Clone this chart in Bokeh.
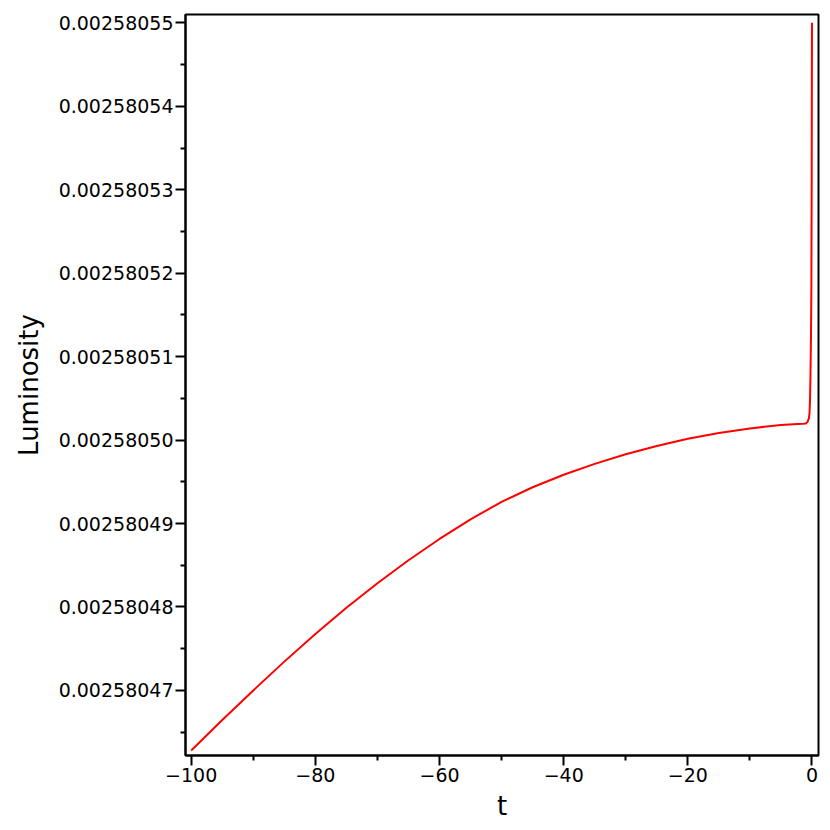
from bokeh.plotting import figure
from bokeh.models import FixedTicker, PrintfTickFormatter, Range1d, ColumnDataSource
from bokeh.embed import file_html
from bokeh.resources import INLINE

# Data
t = [-100.0, -95.0, -90.0, -85.0, -80.0, -75.0, -70.0, -65.0, -60.0, -55.0, -50.0,
     -45.0, -40.0, -35.0, -30.0, -25.0, -20.0, -15.0, -10.0, -5.0, -3.0,
     -1.5, -1.0, -0.7, -0.5, -0.4, -0.32, -0.25, -0.16, -0.1, -0.05, 0.0]
luminosity = [0.00258046280, 0.00258046645, 0.00258047000, 0.00258047345, 0.00258047675,
              0.00258047990, 0.00258048285, 0.00258048560, 0.00258048815, 0.00258049050,
              0.00258049260, 0.00258049435, 0.00258049585, 0.00258049715, 0.00258049830,
              0.00258049930, 0.00258050015, 0.00258050085, 0.00258050140, 0.00258050180,
              0.00258050190, 0.00258050197, 0.00258050200, 0.00258050220,
              0.00258050260, 0.00258050320, 0.00258050470, 0.00258050750, 0.00258051250,
              0.00258051800, 0.00258053000, 0.00258055000]

x_ticks = [-100, -80, -60, -40, -20, 0]
x_tick_labels = ["\u2212100", "\u221280", "\u221260", "\u221240", "\u221220", "0"]
x_minor = [-90, -70, -50, -30, -10]
y_ticks = [0.00258047, 0.00258048, 0.00258049, 0.00258050, 0.00258051,
           0.00258052, 0.00258053, 0.00258054, 0.00258055]
y_minor = [0.002580465, 0.002580475, 0.002580485, 0.002580495, 0.002580505,
           0.002580515, 0.002580525, 0.002580535, 0.002580545]

src = ColumnDataSource(data=dict(t=t, L=luminosity))

p = figure(width=830, height=830, output_backend="svg", toolbar_location=None,
           x_range=Range1d(-100.92, 1.05),
           y_range=Range1d(0.0025804622, 0.0025805510),
           min_border_left=185, min_border_right=12, min_border_top=14, min_border_bottom=75)

p.line("t", "L", source=src, line_color="red", line_width=2)

p.grid.visible = False
p.outline_line_color = "black"
p.outline_line_width = 2
p.outline_line_alpha = 1

p.xaxis.ticker = FixedTicker(ticks=x_ticks, minor_ticks=x_minor)
p.yaxis.ticker = FixedTicker(ticks=y_ticks, minor_ticks=y_minor)
p.yaxis.formatter = PrintfTickFormatter(format="%.8f")
p.xaxis.major_label_overrides = dict(zip(x_ticks, x_tick_labels))

for ax in (p.xaxis[0], p.yaxis[0]):
    ax.axis_line_color = "black"
    ax.axis_line_width = 2
    ax.major_tick_line_color = "black"
    ax.major_tick_line_width = 2
    ax.minor_tick_line_color = "black"
    ax.minor_tick_line_width = 2
    ax.major_tick_out = 10
    ax.major_tick_in = 0
    ax.minor_tick_out = 5
    ax.minor_tick_in = 0
    ax.major_label_text_font = "DejaVu Sans"
    ax.major_label_text_font_size = "19px"
    ax.major_label_text_color = "black"
    ax.major_label_standoff = 2
    ax.axis_label_text_font = "DejaVu Sans"
    ax.axis_label_text_font_size = "26px"
    ax.axis_label_text_font_style = "normal"
    ax.axis_label_text_color = "black"

p.xaxis.axis_label = "t"
p.yaxis.axis_label = "Luminosity"
p.xaxis.axis_label_standoff = 6
p.yaxis.axis_label_standoff = 12

open("out.html", "w").write(file_html(p, INLINE))
